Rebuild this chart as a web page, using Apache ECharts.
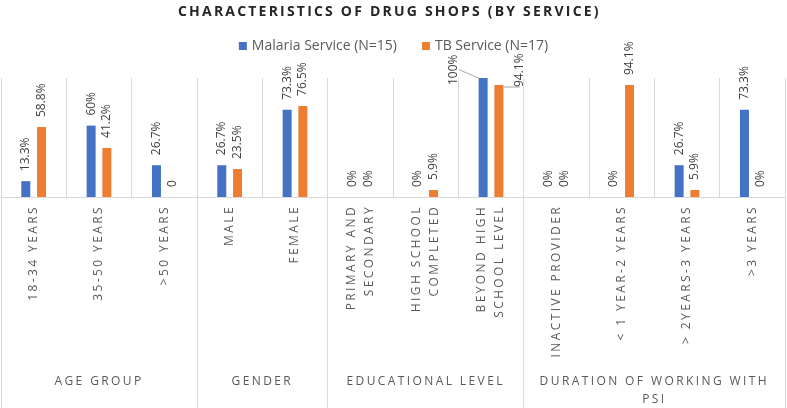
<!DOCTYPE html>
<html>
<head>
<meta charset="utf-8">
<script src="https://cdn.jsdelivr.net/npm/echarts@6/dist/echarts.min.js"></script>
<style>
html,body{margin:0;padding:0;background:#fff;}
#main{width:787px;height:408px;}
</style>
</head>
<body>
<div id="main"></div>
<script>
var categories = ['18-34 YEARS', '35-50 YEARS', '>50 YEARS', 'MALE', 'FEMALE',
  'PRIMARY AND\nSECONDARY', 'HIGH SCHOOL\nCOMPLETED', 'BEYOND HIGH\nSCHOOL LEVEL',
  'INACTIVE PROVIDER', '< 1 YEAR-2 YEARS', '> 2YEARS-3 YEARS', '>3 YEARS'];
var groupNames = ['AGE GROUP', 'GENDER', 'EDUCATIONAL LEVEL', 'DURATION OF WORKING WITH\nPSI'];
var groupSizes = [3, 2, 3, 4];
var malariaValues = [13.3, 60, 26.7, 26.7, 73.3, 0, 0, 100, 0, 0, 26.7, 73.3];
var tbValues = [58.8, 41.2, 0, 23.5, 76.5, 0, 5.9, 94.1, 0, 94.1, 5.9, 0];
var malariaLabels = ['13.3%', '60%', '26.7%', '26.7%', '73.3%', '0%', '0%', '100%', '0%', '0%', '26.7%', '73.3%'];
var tbLabels = ['58.8%', '41.2%', '0', '23.5%', '76.5%', '0%', '5.9%', '94.1%', '0%', '94.1%', '5.9%', '0%'];
var seriesNames = ['Malaria Service (N=15)', 'TB Service (N=17)'];

// Letter spacing for the spaced (Excel-style) texts, keyed by their fill colour.
(function () {
  var spacing = { '#595959': '2.4px', '#262626': '2.2px' };
  var proto = CanvasRenderingContext2D.prototype;
  var orig = proto.fillText;
  proto.fillText = function (t, x, y, w) {
    if ('letterSpacing' in this) {
      this.letterSpacing = spacing[String(this.fillStyle).toLowerCase()] || '0px';
    }
    return w === undefined ? orig.call(this, t, x, y) : orig.call(this, t, x, y, w);
  };
})();

var boundaries = [0], centers = [];
groupSizes.forEach(function (s) {
  var start = boundaries[boundaries.length - 1];
  centers.push(start + s / 2);
  boundaries.push(start + s);
});

var FONT = 'Open Sans';
var gridColor = '#D9D9D9';

function buildData(values, labels, movedIndex) {
  return values.map(function (v, i) {
    var item = { value: v, labelText: labels[i] };
    if (i === movedIndex) {
      item.labelLine = { show: true };
    }
    return item;
  });
}

var labelStyle = {
  show: true,
  position: 'top',
  rotate: 90,
  align: 'left',
  verticalAlign: 'middle',
  distance: 10,
  fontFamily: FONT,
  fontSize: 12,
  color: '#404040',
  formatter: function (p) { return p.data.labelText; }
};

var chart = echarts.init(document.getElementById('main'), null, { renderer: 'canvas' });
chart.setOption({
  animation: false,
  textStyle: { fontFamily: FONT },
  title: {
    text: 'CHARACTERISTICS OF DRUG SHOPS (BY SERVICE)',
    left: 173,
    top: 0,
    textStyle: { fontFamily: FONT, fontSize: 14, fontWeight: 'bold', color: '#262626' }
  },
  legend: {
    top: 34,
    left: 'center',
    itemWidth: 8,
    itemHeight: 8,
    itemGap: 25,
    icon: 'rect',
    textStyle: { fontFamily: FONT, fontSize: 14, color: '#5a5a5a' },
    data: seriesNames
  },
  grid: { left: 1, right: 2, top: 78, bottom: 211, containLabel: false, outerBoundsMode: 'none' },
  xAxis: [{
    type: 'category',
    data: categories,
    boundaryGap: true,
    axisLine: { show: true, lineStyle: { color: gridColor } },
    axisTick: { show: false },
    splitLine: { show: true, interval: 0, lineStyle: { color: gridColor } },
    axisLabel: {
      interval: 0,
      rotate: 90,
      margin: 8,
      fontFamily: FONT,
      fontSize: 12,
      color: '#595959',
      lineHeight: 18
    }
  }, {
    type: 'value',
    position: 'bottom',
    min: 0,
    max: groupSizes.reduce(function (a, b) { return a + b; }, 0),
    axisLine: { show: false },
    splitLine: { show: false },
    axisTick: {
      show: true,
      customValues: boundaries,
      length: 211,
      lineStyle: { color: gridColor }
    },
    axisLabel: {
      show: true,
      customValues: centers,
      margin: 176,
      fontFamily: FONT,
      fontSize: 12,
      color: '#595959',
      lineHeight: 18,
      formatter: function (v) {
        var i = centers.indexOf(v);
        return i >= 0 ? groupNames[i] : '';
      }
    }
  }],
  yAxis: {
    type: 'value',
    min: 0,
    max: 100,
    show: false,
    splitLine: { show: false }
  },
  series: [{
    name: seriesNames[0],
    type: 'bar',
    xAxisIndex: 0,
    barWidth: 9,
    barGap: '75%',
    itemStyle: { color: '#4472C4' },
    data: buildData(malariaValues, malariaLabels, 7),
    label: labelStyle,
    labelLine: { show: false, lineStyle: { color: '#A6A6A6', width: 1 } },
    labelLayout: function (p) {
      if (p.dataIndex === 7) { return { dx: -17, dy: -30 }; }
      return {};
    }
  }, {
    name: seriesNames[1],
    type: 'bar',
    xAxisIndex: 0,
    barWidth: 9,
    itemStyle: { color: '#ED7D31' },
    data: buildData(tbValues, tbLabels, 7),
    label: labelStyle,
    labelLine: { show: false, lineStyle: { color: '#A6A6A6', width: 1 } },
    labelLayout: function (p) {
      if (p.dataIndex === 7) { return { dx: -12, dy: 21 }; }
      return {};
    }
  }]
});
</script>
</body>
</html>
